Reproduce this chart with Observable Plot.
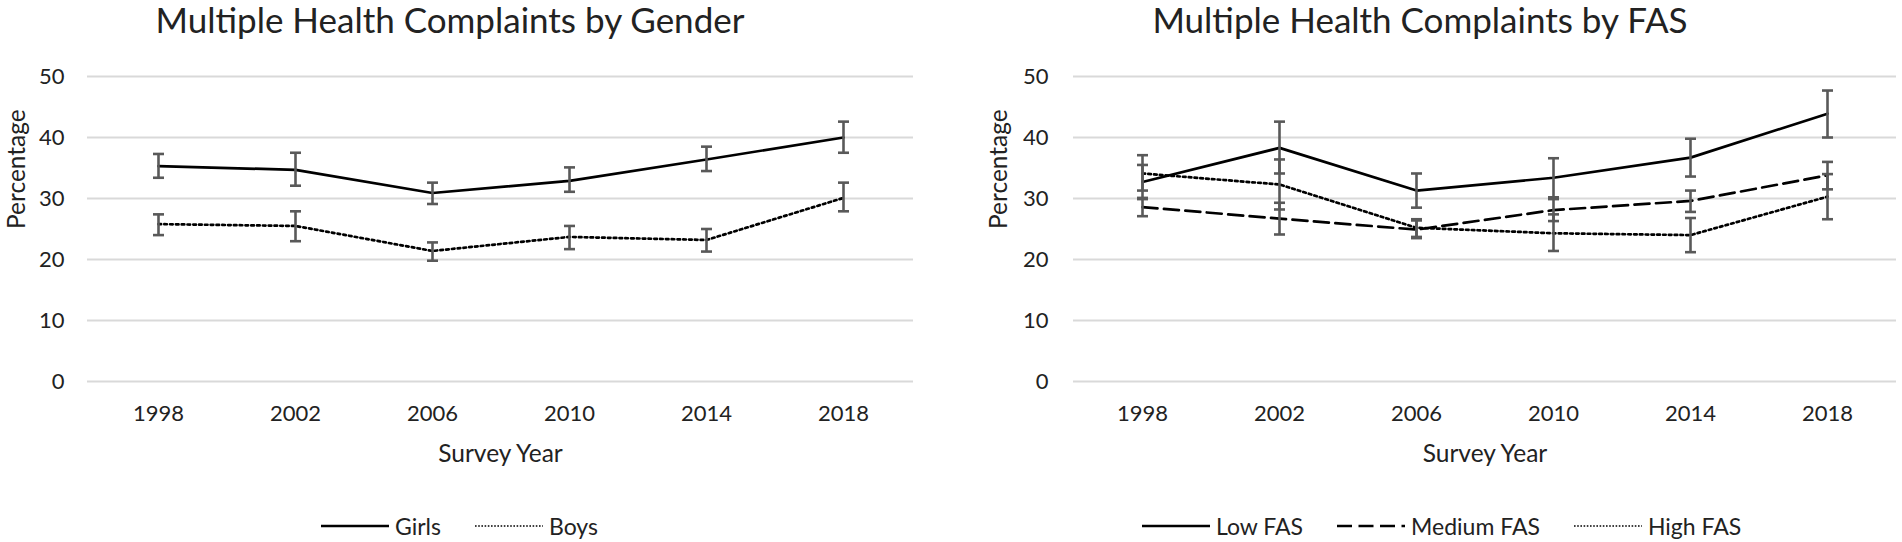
<!DOCTYPE html>
<html>
<head>
<meta charset="utf-8">
<script src="https://cdn.jsdelivr.net/npm/d3@7"></script>
<script src="https://cdn.jsdelivr.net/npm/@observablehq/plot@0.6"></script>
<style>
  html, body { margin: 0; padding: 0; background: #fff; }
  body { width: 1902px; height: 542px; position: relative; overflow: hidden; font-family: Lato, "Open Sans", sans-serif; color: #222; }
  .title { position: absolute; top: -1px; font-size: 35px; line-height: 40px; text-align: center; white-space: nowrap; }
  .panel { position: absolute; top: 50px; }
  .panel svg { overflow: visible; }
  .legend { position: absolute; top: 513px; height: 26px; display: flex; align-items: center; font-size: 23px; line-height: 26px; white-space: nowrap; }
  .legend .item { display: flex; align-items: center; margin-right: 34px; }
  .legend .item:last-child { margin-right: 0; }
  .legend svg { margin-right: 6px; }
</style>
</head>
<body>
<div class="title" id="t1" style="left:150px;width:600px;">Multiple Health Complaints by Gender</div>
<div class="title" id="t2" style="left:1120px;width:600px;">Multiple Health Complaints by FAS</div>
<div class="panel" id="p1" style="left:0px;"></div>
<div class="panel" id="p2" style="left:951px;"></div>
<div class="legend" id="l1" style="left:321px;"></div>
<div class="legend" id="l2" style="left:1142px;"></div>
<script>
// ---- data ----
const years = ["1998", "2002", "2006", "2010", "2014", "2018"];
const yTicks = [0, 10, 20, 30, 40, 50];

const girls   = [35.3, 34.7, 30.9, 32.9, 36.4, 40.0];
const girlsLo = [33.4, 32.1, 29.1, 31.1, 34.5, 37.5];
const girlsHi = [37.3, 37.5, 32.6, 35.1, 38.5, 42.6];

const boys    = [25.8, 25.5, 21.4, 23.7, 23.2, 30.1];
const boysLo  = [24.0, 23.0, 19.8, 21.7, 21.3, 27.9];
const boysHi  = [27.4, 27.9, 22.8, 25.5, 25.0, 32.6];

const lowFAS  = [32.7, 38.3, 31.3, 33.4, 36.7, 43.9];
const lowLo   = [29.9, 34.1, 28.5, 30.2, 33.6, 40.0];
const lowHi   = [35.5, 42.6, 34.1, 36.6, 39.8, 47.7];

const medFAS  = [28.6, 26.7, 24.9, 28.1, 29.6, 33.8];
const medLo   = [27.1, 24.1, 23.5, 26.3, 27.8, 31.5];
const medHi   = [30.1, 29.3, 26.4, 29.9, 31.3, 36.0];

const highFAS = [34.1, 32.3, 25.2, 24.3, 24.0, 30.3];
const highLo  = [31.3, 28.2, 23.7, 21.4, 21.2, 26.6];
const highHi  = [37.1, 36.4, 26.6, 27.4, 26.8, 34.0];

// ---- styles ----
const DASH = { solid: null, dotted: "2.6,3.2", dashed: "15,6.5" };
const genderSeries = [
  { name: "Girls", v: girls, lo: girlsLo, hi: girlsHi, dash: "solid" },
  { name: "Boys",  v: boys,  lo: boysLo,  hi: boysHi,  dash: "dotted" }
];
const fasSeries = [
  { name: "Low FAS",    v: lowFAS,  lo: lowLo,  hi: lowHi,  dash: "solid" },
  { name: "Medium FAS", v: medFAS,  lo: medLo,  hi: medHi,  dash: "dashed" },
  { name: "High FAS",   v: highFAS, lo: highLo, hi: highHi, dash: "dotted" }
];

// horizontal cap symbol for error bars
const capSymbol = {
  draw(context) {
    context.moveTo(-5.5, 0);
    context.lineTo(5.5, 0);
  }
};

function rows(s) {
  return years.map((y, i) => ({ year: y, v: s.v[i], lo: s.lo[i], hi: s.hi[i], series: s.name }));
}

function panel(series, { marginLeft, marginRight, tickPad, labelDx }) {
  const marks = [
    Plot.gridY(yTicks, { stroke: "#d9d9d9", strokeOpacity: 1, strokeWidth: 2 }),
    Plot.axisY(yTicks, { tickSize: 0, tickPadding: tickPad, fontSize: 22, label: null, fill: "#222" }),
    Plot.axisX({ tickSize: 0, tickPadding: 24, fontSize: 22, label: null, fill: "#222" }),
    Plot.text(["Percentage"], { frameAnchor: "left", text: d => d, rotate: -90, dx: labelDx, fontSize: 24.5, fill: "#222", lineAnchor: "middle" }),
    Plot.text(["Survey Year"], { frameAnchor: "bottom", text: d => d, dy: 73, fontSize: 24.5, fill: "#222", lineAnchor: "middle" })
  ];
  for (const s of series) {
    marks.push(Plot.line(rows(s), {
      x: "year", y: "v", stroke: "#000", strokeWidth: 2.7,
      strokeDasharray: DASH[s.dash], strokeLinejoin: "round"
    }));
  }
  for (const s of series) {
    const d = rows(s);
    marks.push(Plot.ruleX(d, { x: "year", y1: "lo", y2: "hi", stroke: "#595959", strokeWidth: 2.6 }));
    marks.push(Plot.dot(d, { x: "year", y: "lo", symbol: capSymbol, r: 5.5, fill: "none", stroke: "#595959", strokeWidth: 2.6 }));
    marks.push(Plot.dot(d, { x: "year", y: "hi", symbol: capSymbol, r: 5.5, fill: "none", stroke: "#595959", strokeWidth: 2.6 }));
  }
  return Plot.plot({
    width: 951,
    height: 425,
    marginTop: 26,
    marginBottom: 94,
    marginLeft,
    marginRight,
    style: { fontFamily: "Lato, 'Open Sans', sans-serif", color: "#222", background: "transparent", overflow: "visible" },
    x: { type: "point", domain: years, padding: 0.5 },
    y: { domain: [0, 50] },
    marks
  });
}

document.getElementById("p1").append(panel(genderSeries, { marginLeft: 87, marginRight: 38, tickPad: 23, labelDx: -70 }));
document.getElementById("p2").append(panel(fasSeries, { marginLeft: 122, marginRight: 6, tickPad: 25, labelDx: -74 }));

function legend(el, series) {
  for (const s of series) {
    const item = document.createElement("div");
    item.className = "item";
    const ns = "http://www.w3.org/2000/svg";
    const svg = document.createElementNS(ns, "svg");
    svg.setAttribute("width", 68);
    svg.setAttribute("height", 10);
    const ln = document.createElementNS(ns, "line");
    ln.setAttribute("x1", 0); ln.setAttribute("x2", 68);
    ln.setAttribute("y1", 5); ln.setAttribute("y2", 5);
    ln.setAttribute("stroke", "#000");
    ln.setAttribute("stroke-width", s.dash === "dotted" ? 1.6 : 2.6);
    const da = s.dash === "dotted" ? "1.6,1.6" : s.dash === "dashed" ? "15,6.5" : null;
    if (da) ln.setAttribute("stroke-dasharray", da);
    svg.append(ln);
    const label = document.createElement("span");
    label.textContent = s.name;
    item.append(svg, label);
    el.append(item);
  }
}
legend(document.getElementById("l1"), genderSeries);
legend(document.getElementById("l2"), fasSeries);
</script>
</body>
</html>
